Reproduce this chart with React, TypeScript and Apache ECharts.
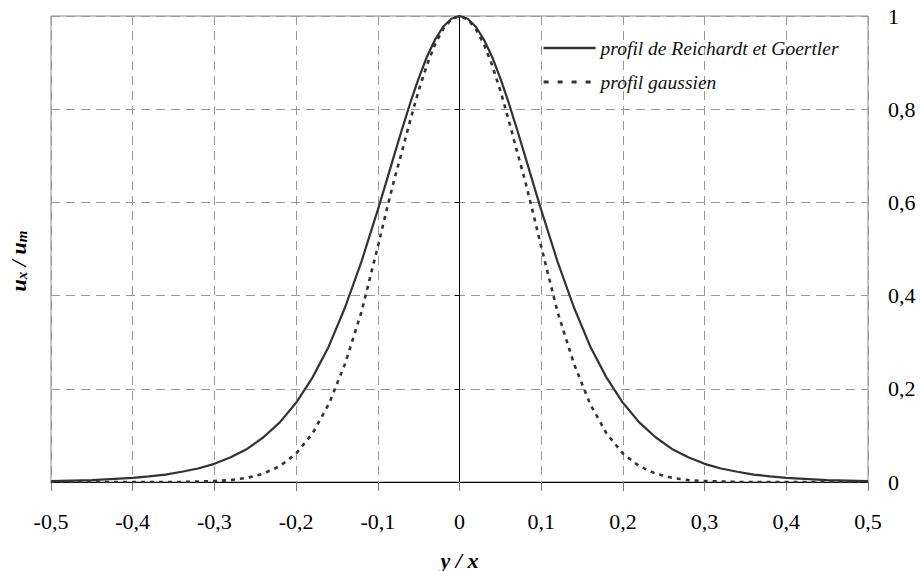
import React, { useEffect, useRef } from "react";
import * as echarts from "echarts";

// Abscissa y/x (shared by both profiles)
const Y_OVER_X = [
  -0.5, -0.45, -0.4, -0.38, -0.36, -0.34, -0.32, -0.3, -0.28, -0.26, -0.24, -0.22, -0.2, -0.18,
  -0.16, -0.14, -0.12, -0.1, -0.09, -0.08, -0.07, -0.06, -0.05, -0.04, -0.03, -0.02, -0.01, 0,
  0.01, 0.02, 0.03, 0.04, 0.05, 0.06, 0.07, 0.08, 0.09, 0.1, 0.12, 0.14, 0.16, 0.18, 0.2, 0.22,
  0.24, 0.26, 0.28, 0.3, 0.32, 0.34, 0.36, 0.38, 0.4, 0.45, 0.5,
];

// u_x / u_m, profil de Reichardt et Goertler
const PROFIL_RG = [
  0.002, 0.004, 0.009, 0.012, 0.016, 0.022, 0.029, 0.039, 0.053, 0.071, 0.096, 0.128, 0.17, 0.224,
  0.291, 0.375, 0.473, 0.584, 0.642, 0.701, 0.759, 0.815, 0.866, 0.912, 0.949, 0.977, 0.994, 1,
  0.994, 0.977, 0.949, 0.912, 0.866, 0.815, 0.759, 0.701, 0.642, 0.584, 0.473, 0.375, 0.291, 0.224,
  0.17, 0.128, 0.096, 0.071, 0.053, 0.039, 0.029, 0.022, 0.016, 0.012, 0.009, 0.004, 0.002,
];

// u_x / u_m, profil gaussien
const PROFIL_GAUSS = [
  0, 0, 0, 0, 0, 0, 0.001, 0.002, 0.004, 0.009, 0.018, 0.034, 0.061, 0.104,
  0.167, 0.254, 0.365, 0.505, 0.578, 0.648, 0.712, 0.778, 0.84, 0.894, 0.939, 0.972, 0.993, 1,
  0.993, 0.972, 0.939, 0.894, 0.84, 0.778, 0.712, 0.648, 0.578, 0.505, 0.365, 0.254, 0.167, 0.104,
  0.061, 0.034, 0.018, 0.009, 0.004, 0.002, 0.001, 0, 0, 0, 0, 0, 0,
];

const SERIES_NAMES = ["profil de Reichardt et Goertler", "profil gaussien"];

const FONT = "Liberation Serif";
const GRID_GRAY = "#999999";
const CURVE = "#333333";

const fmt = (v: number) => {
  if (Math.abs(v) < 1e-9) return "0";
  if (Math.abs(v - 1) < 1e-9) return "1";
  return v.toFixed(1).replace(".", ",");
};

export default function App() {
  const ref = useRef<HTMLDivElement>(null);

  useEffect(() => {
    if (!ref.current) return;
    const chart = echarts.init(ref.current, undefined, { renderer: "svg" });

    const rg = Y_OVER_X.map((x, i) => [x, PROFIL_RG[i]]);
    const ga = Y_OVER_X.map((x, i) => [x, PROFIL_GAUSS[i]]);

    chart.setOption({
      animation: false,
      backgroundColor: "#ffffff",
      textStyle: { fontFamily: FONT },
      grid: {
        left: 51,
        right: 52,
        top: 16,
        bottom: 89,
        outerBoundsMode: "none",
        containLabel: false,
        show: true,
        borderColor: "#888888",
        borderWidth: 1,
        backgroundColor: "transparent",
      },
      legend: {
        orient: "vertical",
        left: 542,
        top: 38,
        padding: 0,
        itemWidth: 52,
        itemHeight: 14,
        itemGap: 14,
        itemStyle: { opacity: 0 },
        textStyle: {
          fontFamily: FONT,
          fontStyle: "italic",
          fontSize: 19.5,
          color: "#111",
          lineHeight: 20,
        },
        data: [
          { name: SERIES_NAMES[0], lineStyle: { width: 2.6 } },
          { name: SERIES_NAMES[1], lineStyle: { width: 3.2, type: [5, 9] } },
        ],
      },
      xAxis: {
        type: "value",
        min: -0.5,
        max: 0.5,
        interval: 0.1,
        name: "y / x",
        nameLocation: "middle",
        nameGap: 67,
        nameTextStyle: {
          fontFamily: FONT,
          fontStyle: "italic",
          fontWeight: "bold",
          fontSize: 22,
          color: "#000",
        },
        axisLine: { show: true, onZero: true, lineStyle: { color: "#000", width: 1 } },
        axisTick: { show: true, length: 9, lineStyle: { color: "#777" } },
        axisLabel: {
          margin: 28,
          fontFamily: FONT,
          fontSize: 22,
          color: "#000",
          formatter: fmt,
        },
        splitLine: {
          show: true,
          lineStyle: { color: GRID_GRAY, type: [9, 6], width: 1 },
        },
      },
      yAxis: [
        {
          type: "value",
          position: "left",
          min: 0,
          max: 1,
          interval: 0.2,
          axisLine: { show: true, onZero: true, lineStyle: { color: "#000", width: 1 } },
          axisTick: { show: true, length: 5, lineStyle: { color: "#000" } },
          axisLabel: { show: false },
          splitLine: {
            show: true,
            lineStyle: { color: GRID_GRAY, type: [9, 6], width: 1 },
          },
        },
        {
          type: "value",
          position: "right",
          min: 0,
          max: 1,
          interval: 0.2,
          axisLine: { show: false, onZero: false },
          axisTick: { show: false },
          splitLine: { show: false },
          axisLabel: {
            margin: 20,
            fontFamily: FONT,
            fontSize: 22,
            color: "#000",
            formatter: fmt,
          },
        },
        {
          type: "value",
          position: "left",
          min: 0,
          max: 1,
          interval: 0.2,
          axisLine: { show: false, onZero: false },
          axisTick: { show: false },
          axisLabel: { show: false },
          splitLine: { show: false },
          name: "{u|u}{s|x}{u| / u}{s|m}",
          nameLocation: "middle",
          nameRotate: 90,
          nameGap: 22,
          nameTextStyle: {
            padding: [0, 24, 0, 0],
            rich: {
              u: {
                fontFamily: FONT,
                fontStyle: "italic",
                fontWeight: "bold",
                fontSize: 22,
                color: "#000",
              },
              s: {
                fontFamily: FONT,
                fontStyle: "italic",
                fontWeight: "bold",
                fontSize: 15,
                color: "#000",
                verticalAlign: "bottom",
              },
            },
          },
        },
      ],
      series: [
        {
          name: SERIES_NAMES[0],
          type: "line",
          data: rg,
          yAxisIndex: 0,
          symbol: "none",
          smooth: false,
          lineStyle: { color: CURVE, width: 2.2, type: "solid" },
          itemStyle: { color: CURVE },
          z: 3,
        },
        {
          name: SERIES_NAMES[1],
          type: "line",
          data: ga,
          yAxisIndex: 0,
          symbol: "none",
          smooth: false,
          lineStyle: { color: CURVE, width: 2.6, type: [4, 5] },
          itemStyle: { color: CURVE },
          z: 2,
        },
      ],
    });

    return () => chart.dispose();
  }, []);

  return (
    <div
      ref={ref}
      style={{ position: "fixed", left: 0, top: 0, width: 920, height: 571, background: "#fff" }}
    />
  );
}
